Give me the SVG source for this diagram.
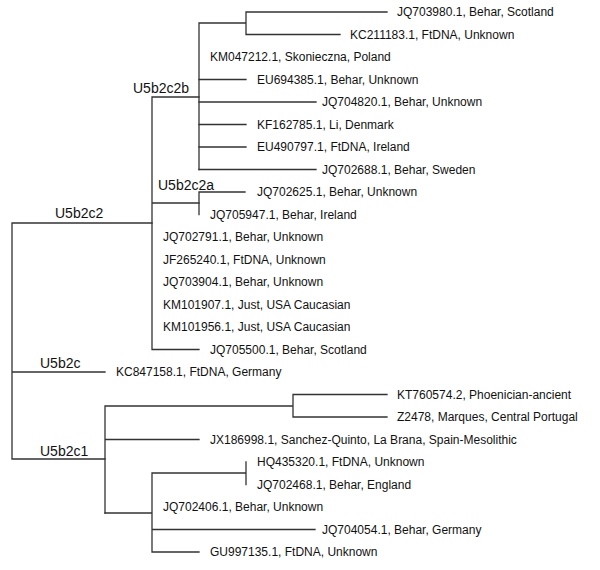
<svg xmlns="http://www.w3.org/2000/svg" width="600" height="570" viewBox="0 0 600 570">
<style>
.br{fill:none;stroke:#333;stroke-width:1.3;stroke-linecap:square}
.lf{font-family:"Liberation Sans",Arial,sans-serif;font-size:12px;fill:#111;dominant-baseline:central}
.cl{font-family:"Liberation Sans",Arial,sans-serif;font-size:14px;fill:#111}
</style>
<rect width="600" height="570" fill="#fff"/>
<g id="connectors" class="br">
<path d="M12,223V459M12,223H152M12,372H105M12,459H105"/>
<path d="M152,97V349.5M152,97H199M152,203H199M152,349.5H199"/>
<path d="M199,23V169.5M199,23H246M246,12V34.5M246,12H387M246,34.5H340"/>
<path d="M199,79.5H246M199,102H316M199,124.5H246M199,147H246M199,169.5H316"/>
<path d="M199,192V214.5M199,192H245"/>
<path d="M105,406V513M105,406H293M293,394.5V417M293,394.5H387M293,417H387M105,439.5H199"/>
<path d="M105,513H152M152,473V552M152,473H246M246,462V484.5M152,529.5H315M152,552H199"/>
</g>
<g id="U5b2c2b"><text class="cl" x="133" y="93">U5b2c2b</text></g>
<g id="U5b2c2a"><text class="cl" x="158" y="190">U5b2c2a</text></g>
<g id="U5b2c2"><text class="cl" x="55" y="218">U5b2c2</text></g>
<g id="U5b2c"><text class="cl" x="40" y="368">U5b2c</text></g>
<g id="U5b2c1"><text class="cl" x="40" y="456">U5b2c1</text></g>
<g id="JQ703980"><text class="lf" x="397" y="12">JQ703980.1, Behar, Scotland</text></g>
<g id="KC211183"><text class="lf" x="350" y="34.5">KC211183.1, FtDNA, Unknown</text></g>
<g id="KM047212"><text class="lf" x="210" y="57">KM047212.1, Skonieczna, Poland</text></g>
<g id="EU694385"><text class="lf" x="257" y="79.5">EU694385.1, Behar, Unknown</text></g>
<g id="JQ704820"><text class="lf" x="322" y="102">JQ704820.1, Behar, Unknown</text></g>
<g id="KF162785"><text class="lf" x="257" y="124.5">KF162785.1, Li, Denmark</text></g>
<g id="EU490797"><text class="lf" x="257" y="147">EU490797.1, FtDNA, Ireland</text></g>
<g id="JQ702688"><text class="lf" x="322" y="169.5">JQ702688.1, Behar, Sweden</text></g>
<g id="JQ702625"><text class="lf" x="257" y="192">JQ702625.1, Behar, Unknown</text></g>
<g id="JQ705947"><text class="lf" x="210" y="214.5">JQ705947.1, Behar, Ireland</text></g>
<g id="JQ702791"><text class="lf" x="163" y="237">JQ702791.1, Behar, Unknown</text></g>
<g id="JF265240"><text class="lf" x="163" y="259.5">JF265240.1, FtDNA, Unknown</text></g>
<g id="JQ703904"><text class="lf" x="163" y="282">JQ703904.1, Behar, Unknown</text></g>
<g id="KM101907"><text class="lf" x="163" y="304.5">KM101907.1, Just, USA Caucasian</text></g>
<g id="KM101956"><text class="lf" x="163" y="327">KM101956.1, Just, USA Caucasian</text></g>
<g id="JQ705500"><text class="lf" x="210" y="349.5">JQ705500.1, Behar, Scotland</text></g>
<g id="KC847158"><text class="lf" x="116" y="372">KC847158.1, FtDNA, Germany</text></g>
<g id="KT760574"><text class="lf" x="397" y="394.5">KT760574.2, Phoenician-ancient</text></g>
<g id="Z2478"><text class="lf" x="397" y="417">Z2478, Marques, Central Portugal</text></g>
<g id="JX186998"><text class="lf" x="210" y="439.5">JX186998.1, Sanchez-Quinto, La Brana, Spain-Mesolithic</text></g>
<g id="HQ435320"><text class="lf" x="257" y="462">HQ435320.1, FtDNA, Unknown</text></g>
<g id="JQ702468"><text class="lf" x="257" y="484.5">JQ702468.1, Behar, England</text></g>
<g id="JQ702406"><text class="lf" x="163" y="507">JQ702406.1, Behar, Unknown</text></g>
<g id="JQ704054"><text class="lf" x="322" y="529.5">JQ704054.1, Behar, Germany</text></g>
<g id="GU997135"><text class="lf" x="210" y="552">GU997135.1, FtDNA, Unknown</text></g>
</svg>
